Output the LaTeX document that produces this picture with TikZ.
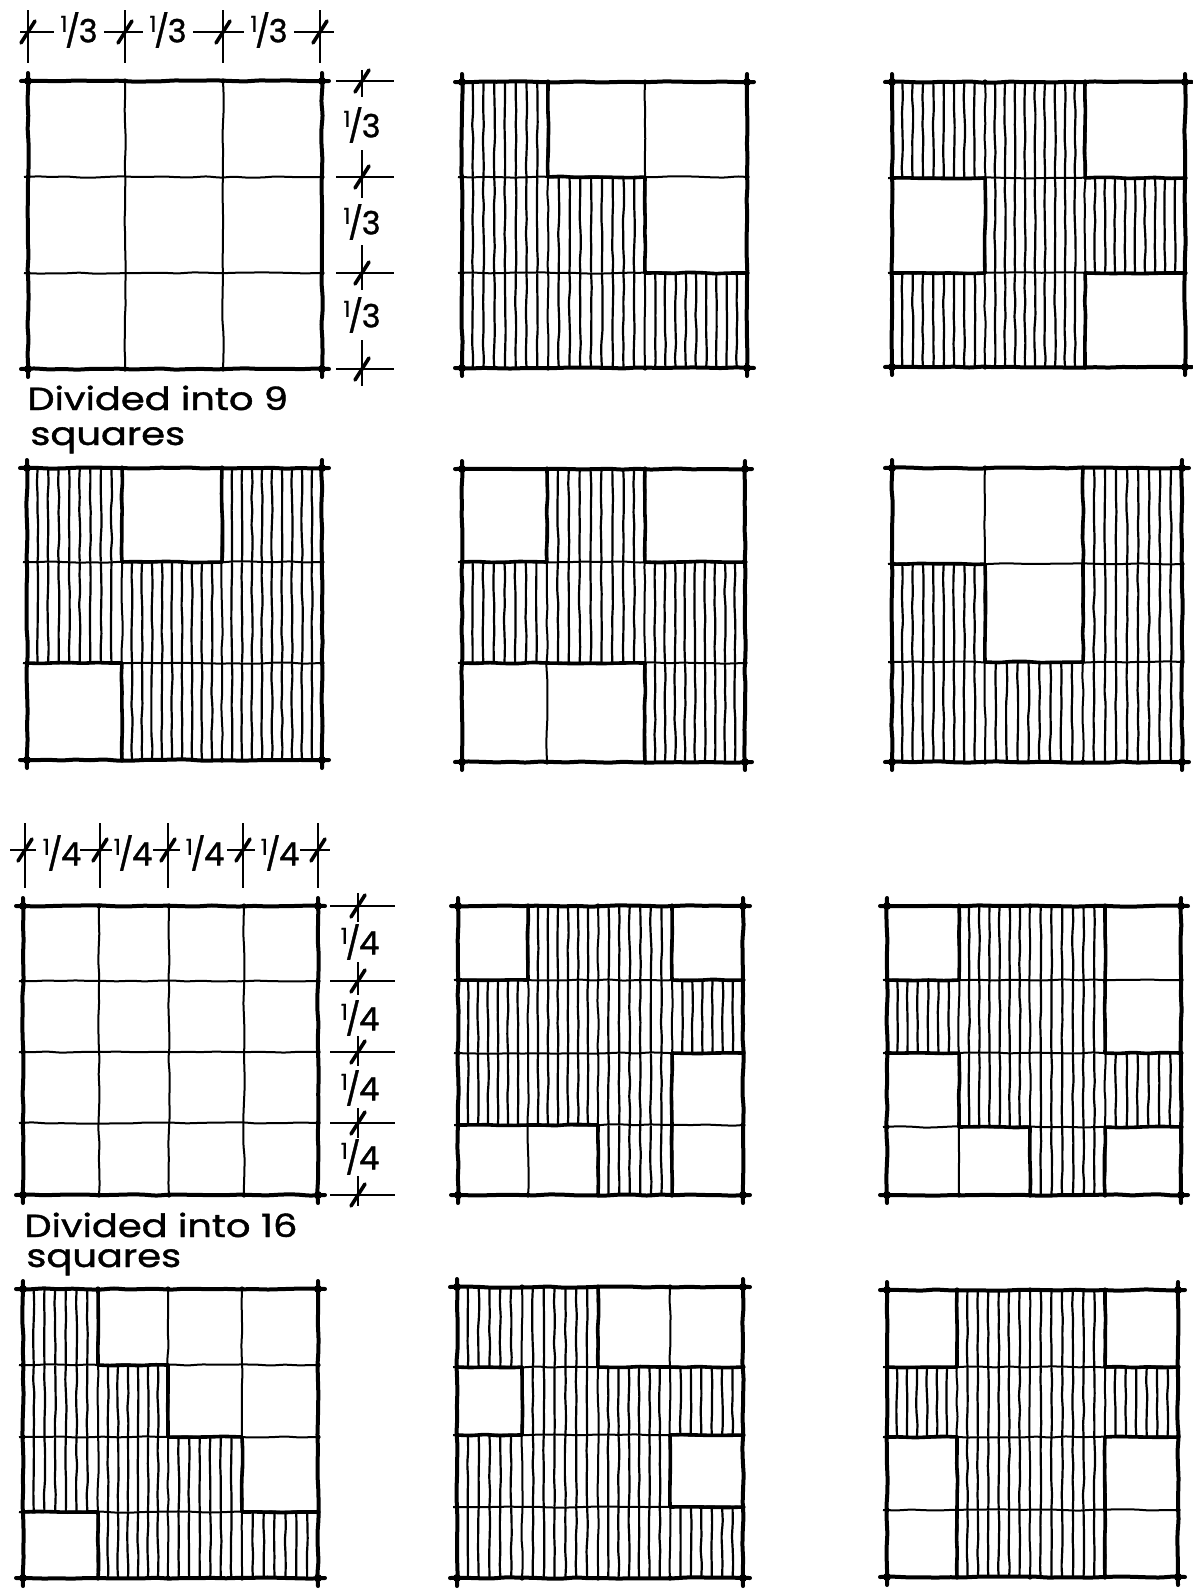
\documentclass[tikz,border=0pt]{standalone}
\usepackage{fontspec}
\setmainfont{Poppins}
\newfontfamily\handfont{Poppins}[FakeBold=1.2]
\usepackage{graphicx}
\usetikzlibrary{decorations.pathmorphing}
\pgfmathsetseed{7}
\tikzset{
  wob/.style={decorate, decoration={random steps, segment length=7pt, amplitude=0.35pt}, rounded corners=1.5pt},
  hatch/.style={wob, line width=1.1pt, line cap=round},
  gridln/.style={wob, line width=1pt},
  edgeln/.style={wob, line width=1.8pt, line cap=round},
  border/.style={wob, line width=2pt, line cap=round},
  dimln/.style={line width=0.9pt},
  tickln/.style={line width=1.8pt, line cap=round},
  lbl/.style={inner sep=0pt, font=\handfont\fontsize{16pt}{16pt}\selectfont},
  txt/.style={inner sep=0pt, anchor=base west, font=\handfont\fontsize{16pt}{16pt}\selectfont},
}
\newcommand\myfrac[1]{\raisebox{0.33em}{\fontsize{11pt}{11pt}\selectfont 1}\kern-1.2pt/\kern-0.8pt#1}
\newcommand\wide[1]{\scalebox{1.2}[1]{#1}}
% #1 n, #2 x list, #3 y list, #4 pattern (row-major, 1 = hatched)
\newcommand\drawsq[4]{%
  \pgfmathtruncatemacro\sqn{#1}%
  \pgfmathtruncatemacro\sqm{#1-1}%
  \pgfmathtruncatemacro\sqk{#1-2}%
  \pgfmathsetmacro\sxa{{#2}[0]}%
  \pgfmathsetmacro\sxb{{#2}[\sqn]}%
  \pgfmathsetmacro\sya{{#3}[0]}%
  \pgfmathsetmacro\syb{{#3}[\sqn]}%
  % hatching
  \foreach \ry in {0,...,\sqm}{%
    \foreach \cx in {0,...,\sqm}{%
      \pgfmathtruncatemacro\sqidx{\ry*\sqn+\cx}%
      \pgfmathtruncatemacro\sqhh{{#4}[\sqidx]}%
      \ifnum\sqhh=1\relax
        \pgfmathtruncatemacro\sqcc{\cx+1}%
        \pgfmathtruncatemacro\sqrr{\ry+1}%
        \pgfmathsetmacro\hxl{{#2}[\cx]}%
        \pgfmathsetmacro\hxr{{#2}[\sqcc]}%
        \pgfmathsetmacro\hyt{{#3}[\ry]}%
        \pgfmathsetmacro\hyb{{#3}[\sqrr]}%
        \pgfmathtruncatemacro\sqng{round((\hxr-\hxl)/10.5)}%
        \pgfmathtruncatemacro\sqnl{\sqng-1}%
        \foreach \kk in {1,...,\sqnl}{%
          \pgfmathsetmacro\hxx{\hxl+(\hxr-\hxl)*\kk/\sqng}%
          \draw[hatch] (\hxx,\hyt+1) -- (\hxx,\hyb-1);
        }%
      \fi
    }%
  }%
  % inner grid
  \foreach \ii in {1,...,\sqm}{%
    \pgfmathsetmacro\gx{{#2}[\ii]}%
    \pgfmathsetmacro\gy{{#3}[\ii]}%
    \draw[gridln] (\gx,\sya) -- (\gx,\syb);
    \draw[gridln] (\sxa-4,\gy) -- (\sxb,\gy);
    \fill (\gx,\sya) circle (1.3pt) (\gx,\syb) circle (1.3pt) (\sxa,\gy) circle (1.3pt) (\sxb,\gy) circle (1.3pt);
  }%
  % thick edges between hatched and white cells (vertical edges)
  \foreach \ry in {0,...,\sqm}{%
    \foreach \cx in {0,...,\sqk}{%
      \pgfmathtruncatemacro\sqia{\ry*\sqn+\cx}%
      \pgfmathtruncatemacro\sqib{\sqia+1}%
      \pgfmathtruncatemacro\sqpa{{#4}[\sqia]}%
      \pgfmathtruncatemacro\sqpb{{#4}[\sqib]}%
      \ifnum\sqpa=\sqpb\else
        \pgfmathtruncatemacro\sqcc{\cx+1}%
        \pgfmathtruncatemacro\sqrr{\ry+1}%
        \pgfmathsetmacro\ex{{#2}[\sqcc]}%
        \pgfmathsetmacro\eya{{#3}[\ry]}%
        \pgfmathsetmacro\eyb{{#3}[\sqrr]}%
        \draw[edgeln] (\ex,\eya) -- (\ex,\eyb);
      \fi
    }%
  }%
  % horizontal edges
  \foreach \ry in {0,...,\sqk}{%
    \foreach \cx in {0,...,\sqm}{%
      \pgfmathtruncatemacro\sqia{\ry*\sqn+\cx}%
      \pgfmathtruncatemacro\sqib{\sqia+\sqn}%
      \pgfmathtruncatemacro\sqpa{{#4}[\sqia]}%
      \pgfmathtruncatemacro\sqpb{{#4}[\sqib]}%
      \ifnum\sqpa=\sqpb\else
        \pgfmathtruncatemacro\sqcc{\cx+1}%
        \pgfmathtruncatemacro\sqrr{\ry+1}%
        \pgfmathsetmacro\exa{{#2}[\cx]}%
        \pgfmathsetmacro\exb{{#2}[\sqcc]}%
        \pgfmathsetmacro\ey{{#3}[\sqrr]}%
        \draw[edgeln] (\exa,\ey) -- (\exb,\ey);
      \fi
    }%
  }%
  % border
  \draw[border] (\sxa-7,\sya) -- (\sxb+7,\sya);
  \draw[border] (\sxa-7,\syb) -- (\sxb+7,\syb);
  \draw[border] (\sxa,\sya-8) -- (\sxa,\syb+8);
  \draw[border] (\sxb,\sya-8) -- (\sxb,\syb+8);
  \fill (\sxa,\sya) circle (2pt) (\sxb,\sya) circle (2pt) (\sxa,\syb) circle (2pt) (\sxb,\syb) circle (2pt);
}
\begin{document}
\begin{tikzpicture}[x={(0.5pt,0)}, y={(0,-0.5pt)}]
\useasboundingbox (0,0) rectangle (1193,1590);
\fill[white] (0,0) rectangle (1193,1590);

% ---------- row 1 ----------
\drawsq{3}{28,125,223,322}{81,177,273,369}{0,0,0,0,0,0,0,0,0}
\drawsq{3}{462,548,645,747}{82,177,273,368}{1,0,0,1,1,0,1,1,1}
\drawsq{3}{892,985,1085,1185}{82,178,273,367}{1,1,0,0,1,1,1,1,0}
% ---------- row 2 ----------
\drawsq{3}{27,122,222,322}{468,562,663,760}{1,0,1,1,1,1,0,1,1}
\drawsq{3}{462,547,645,745}{469,562,663,762}{0,1,0,1,1,1,0,0,1}
\drawsq{3}{892,985,1083,1182}{468,564,662,762}{0,0,1,1,0,1,1,1,1}
% ---------- row 3 ----------
\drawsq{4}{23,99,169,244,318}{906,981,1052,1123,1195}{0,0,0,0,0,0,0,0,0,0,0,0,0,0,0,0}
\drawsq{4}{458,528,598,672,743}{906,980,1053,1125,1195}{0,1,1,0,1,1,1,1,1,1,1,0,0,0,1,0}
\drawsq{4}{887,959,1030,1105,1181}{906,980,1053,1127,1195}{0,1,1,0,1,1,1,0,0,1,1,1,0,0,1,0}
% ---------- row 4 ----------
\drawsq{4}{23,98,168,242,318}{1289,1365,1437,1512,1578}{1,0,0,0,1,1,0,0,1,1,1,0,0,1,1,1}
\drawsq{4}{457,522,598,670,743}{1287,1367,1435,1507,1578}{1,1,0,0,0,1,1,1,1,1,1,0,1,1,1,1}
\drawsq{4}{887,957,1030,1105,1178}{1290,1367,1437,1510,1577}{0,1,1,0,1,1,1,1,0,1,1,0,0,1,1,0}

% ---------- dimensions, 3x3 ----------
\foreach \x in {28,125,223,320}{%
  \draw[dimln] (\x,10) -- (\x,63);
  \draw[tickln] (\x-7,43) -- (\x+7,21);
}
\draw[dimln] (20,32) -- (54,32) (104,32) -- (143,32) (193,32) -- (244,32) (294,32) -- (334,32);
\node[lbl] (t31) at (79,30) {\myfrac{3}};
\node[lbl] (t32) at (168,30) {\myfrac{3}};
\node[lbl] (t33) at (269,30) {\myfrac{3}};
\foreach \y in {81,177,273,369}{%
  \draw[dimln] (336,\y) -- (394,\y);
  \draw[tickln] (355,\y+11) -- (369,\y-11);
}
\draw[dimln] (362,70) -- (362,97) (362,150) -- (362,198) (362,245) -- (362,290) (362,340) -- (362,386);
\node[lbl] (r31) at (362,125) {\myfrac{3}};
\node[lbl] (r32) at (362,222) {\myfrac{3}};
\node[lbl] (r33) at (362,315) {\myfrac{3}};
\node[txt] (cap9a) at (27,410) {\wide{Divided into 9}};
\node[txt] (cap9b) at (30,445) {\wide{squares}};

% ---------- dimensions, 4x4 ----------
\foreach \x in {25,100,168,243,318}{%
  \draw[dimln] (\x,823) -- (\x,888);
  \draw[tickln] (\x-7,861) -- (\x+7,839);
}
\draw[dimln] (10,850) -- (36,850) (80,850) -- (112,850) (153,850) -- (180,850) (227,850) -- (255,850) (300,850) -- (330,850);
\node[lbl] (t41) at (62,853) {\myfrac{4}};
\node[lbl] (t42) at (133,853) {\myfrac{4}};
\node[lbl] (t43) at (205,853) {\myfrac{4}};
\node[lbl] (t44) at (280,853) {\myfrac{4}};
\foreach \y in {906,981,1052,1123,1195}{%
  \draw[dimln] (330,\y) -- (395,\y);
  \draw[tickln] (351,\y+11) -- (365,\y-11);
}
\draw[dimln] (358,893) -- (358,922) (358,962) -- (358,995) (358,1036) -- (358,1066) (358,1108) -- (358,1138) (358,1176) -- (358,1206);
\node[lbl] (r41) at (360,942) {\myfrac{4}};
\node[lbl] (r42) at (360,1018) {\myfrac{4}};
\node[lbl] (r43) at (360,1088) {\myfrac{4}};
\node[lbl] (r44) at (360,1157) {\myfrac{4}};
\node[txt] (cap16a) at (24,1237) {\wide{Divided into 16}};
\node[txt] (cap16b) at (26,1267) {\wide{squares}};
\end{tikzpicture}
\end{document}
